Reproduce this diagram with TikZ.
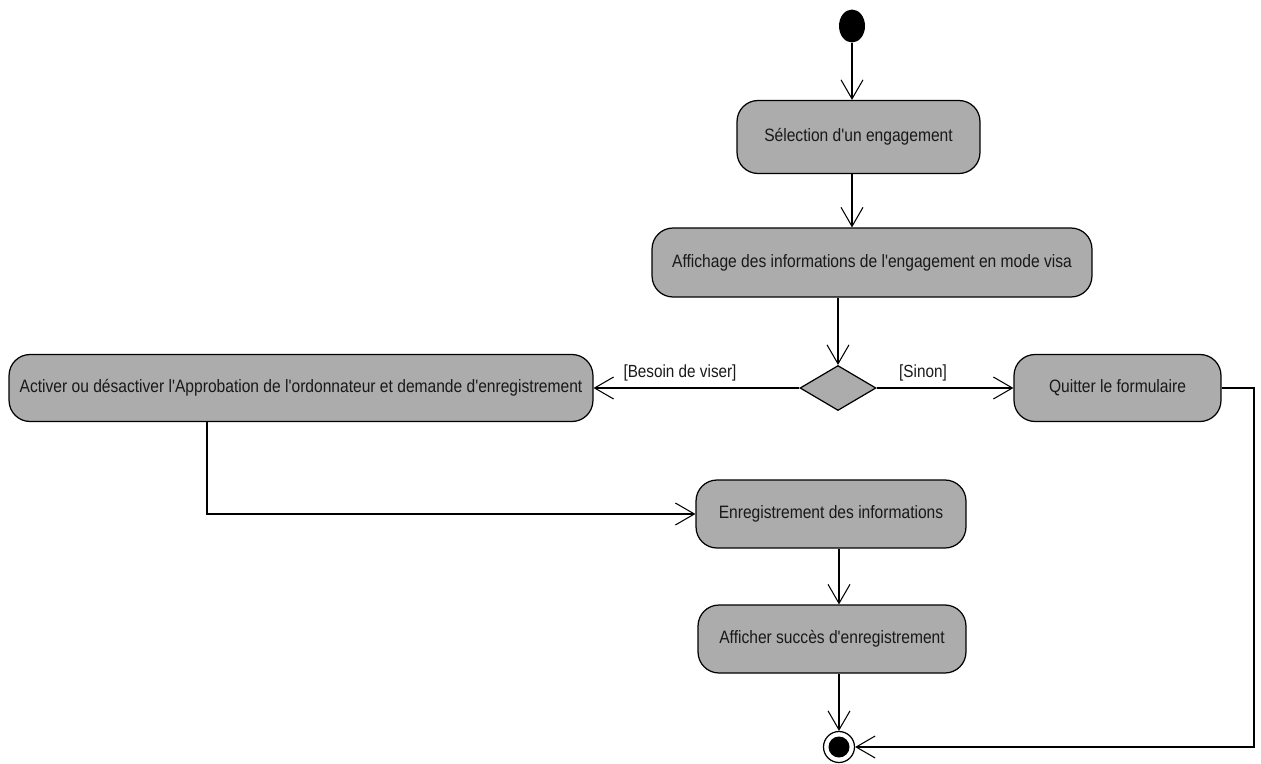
\documentclass[tikz,border=0pt]{standalone}
\usepackage{fontspec}
\setmainfont{Liberation Sans}[FakeStretch=0.87,Ligatures=TeXOff]
\usetikzlibrary{arrows.meta,shapes.geometric}
\definecolor{actfill}{RGB}{172,172,172}
\definecolor{inkgray}{RGB}{25,25,25}
\begin{document}
\begin{tikzpicture}[x=0.02cm,y=-0.02cm,
  activity/.style={draw=black,line width=0.7pt,fill=actfill,rounded corners=0.42cm,
    inner sep=0pt,text=inkgray,font=\fontsize{10.2}{12}\selectfont},
  flow/.style={draw=black,line width=0.6pt,
    -{Straight Barb[length=3.8mm,width=4.4mm,line width=0.6pt]}},
  guard/.style={text=inkgray,font=\fontsize{10}{12}\selectfont,inner sep=0pt}]
\useasboundingbox (0,0) rectangle (1261,764);

% initial and final states
\node[draw=none,fill=black,ellipse,minimum width=0.52cm,minimum height=0.66cm,inner sep=0pt] (start) at (852,26) {};
\node[circle,draw=black,line width=0.7pt,fill=white,minimum size=0.62cm,inner sep=0pt] (end) at (839,747) {};
\node[circle,fill=black,minimum size=0.42cm,inner sep=0pt] (endcore) at (839,747) {};

% actions
\node[activity,minimum width=4.86cm,minimum height=1.46cm] (sel) at (858.5,137) {Sélection d'un engagement};
\node[activity,minimum width=8.8cm,minimum height=1.38cm] (aff) at (872,262.5) {Affichage des informations de l'engagement en mode visa};
\node[draw=black,line width=0.7pt,fill=actfill,diamond,inner sep=0pt,minimum width=1.52cm,minimum height=0.9cm] (dec) at (838,388) {};
\node[activity,minimum width=11.68cm,minimum height=1.34cm] (act) at (301,388) {Activer ou désactiver l'Approbation de l'ordonnateur et demande d'enregistrement};
\node[activity,minimum width=4.14cm,minimum height=1.34cm] (quit) at (1117.5,388) {Quitter le formulaire};
\node[activity,minimum width=5.4cm,minimum height=1.36cm] (enr) at (831,514) {Enregistrement des informations};
\node[activity,minimum width=5.36cm,minimum height=1.36cm] (succ) at (832,639) {Afficher succès d'enregistrement};

% guards
\node[guard] (gbesoin) at (680,373) {[Besoin de viser]};
\node[guard] (gsinon) at (923,373) {[Sinon]};

% bend points
\coordinate (actout) at (207,421);
\coordinate (turn) at (1254,388);

% control flows
\draw[flow] (start.south) -- (start.south |- sel.north);
\draw[flow] (sel.south -| start) -- (aff.north -| start);
\draw[flow] (aff.south -| dec) -- (dec.north);
\draw[flow] (dec.west) -- (act.east);
\draw[flow] (dec.east) -- (quit.west);
\draw[flow] (actout) |- (enr.west);
\draw[flow] (enr.south -| end) -- (succ.north -| end);
\draw[flow] (succ.south -| end) -- (end.north);
\draw[flow] (quit.east) -- (turn) |- (end.east);
\end{tikzpicture}
\end{document}
